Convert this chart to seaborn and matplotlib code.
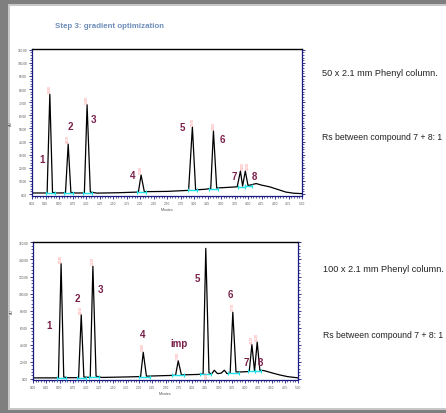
import matplotlib
matplotlib.use("Agg")
import matplotlib.pyplot as plt
import seaborn as sns
import pandas as pd
from matplotlib.patches import Rectangle
from matplotlib.ticker import MultipleLocator

sns.set_style("white")
plt.rcParams['font.family'] = ['Liberation Sans', 'DejaVu Sans']

# ---------------- data ----------------
top_time = [0.00, 0.28, 0.33, 0.38, 0.45, 0.62, 0.67, 0.72, 0.80, 0.97, 1.02, 1.08, 1.20,
            1.60, 1.97, 2.02, 2.08, 2.50, 2.90, 2.97, 3.03, 3.20, 3.31, 3.36, 3.42, 3.60,
            3.80, 3.86, 3.90, 3.95, 4.00, 4.06, 4.15, 4.25, 4.40, 4.55, 4.70, 4.85, 5.00]
top_signal = [0.8, 0.8, 76, 1.2, 0.8, 0.9, 38, 1.2, 0.8, 0.8, 68, 1.5, 0.7,
              1.0, 1.5, 14.5, 1.8, 2.0, 2.8, 51, 3.2, 3.6, 4.2, 48, 4.6, 5.0,
              5.5, 17.5, 6.0, 17.5, 6.5, 7.0, 8.0, 6.8, 5.5, 3.5, 1.5, 0.6, 0.3]
top_peak_names = ["1", "2", "3", "4", "5", "6", "7", "8"]
top_peak_rt = [0.33, 0.67, 1.02, 2.02, 2.97, 3.36, 3.90, 4.00]
top_peak_h = [76, 38, 68, 14.5, 51, 48, 17.5, 17.5]
top_rt_text = ["0.330", "0.670", "1.020", "2.020", "2.970", "3.360", "3.900", "4.000"]
top_label_x = [0.185, 0.71, 1.13, 1.87, 2.78, 3.52, 3.74, 4.11]
top_label_y = [26.7, 52.0, 57, 14.5, 51, 42, 13.7, 13.7]
top_int_start = [0.26, 0.60, 0.95, 1.95, 2.88, 3.28, 3.82, 3.94]
top_int_end = [0.42, 0.76, 1.12, 2.12, 3.06, 3.45, 3.94, 4.08]
top_int_level = [0.8, 0.9, 0.9, 1.5, 2.8, 4.2, 5.5, 6.5]

# Chromatogram 2 (100 x 2.1 mm column)
bot_time = [0.00, 0.48, 0.53, 0.58, 0.65, 0.86, 0.91, 0.96, 1.08, 1.13, 1.19, 1.30, 1.70,
            2.03, 2.08, 2.14, 2.40, 2.69, 2.74, 2.80, 3.10, 3.21, 3.26, 3.32, 3.37, 3.42,
            3.48, 3.55, 3.61, 3.66, 3.72, 3.77, 3.83, 3.95, 4.08, 4.13, 4.18, 4.23, 4.28,
            4.36, 4.50, 4.65, 4.80, 5.00]
bot_signal = [1.0, 1.0, 135, 2.0, 1.2, 1.2, 75, 2.0, 1.5, 132, 3.0, 1.5, 2.0,
              2.5, 31, 3.0, 3.5, 4.0, 21, 4.5, 5.0, 5.5, 153, 7.0, 5.5, 10,
              6.0, 6.5, 10, 6.0, 6.5, 78, 8.0, 8.0, 8.5, 40, 9.0, 43, 10,
              9.5, 7.0, 4.5, 2.5, 1.0]
bot_peak_names = ["1", "2", "3", "4", "imp", "5", "6", "7", "8"]
bot_peak_rt = [0.53, 0.91, 1.13, 2.08, 2.74, 3.26, 3.77, 4.13, 4.23]
bot_peak_h = [135, 75, 132, 31, 21, 153, 78, 40, 43]
bot_rt_text = ["0.530", "0.910", "1.130", "2.080", "2.740", "3.260", "3.770", "4.130", "4.230"]
bot_label_x = [0.30, 0.83, 1.28, 2.06, 2.75, 3.11, 3.72, 4.02, 4.30]
bot_label_y = [62.8, 94.4, 105, 52.3, 41.8, 117.8, 99, 19.6, 19.6]
bot_int_start = [0.45, 0.83, 1.05, 2.00, 2.62, 3.15, 3.68, 4.05, 4.18]
bot_int_end = [0.62, 1.00, 1.25, 2.20, 2.85, 3.35, 3.88, 4.18, 4.30]
bot_int_level = [1.0, 1.2, 1.5, 2.5, 4.0, 5.5, 6.5, 8.5, 9.5]

x_ticks = [i * 0.25 for i in range(21)]
top_y_ticks = list(range(0, 111, 10))
bot_y_ticks = list(range(0, 161, 20))

side_texts = ["50 x 2.1 mm Phenyl column.", "Rs between compound 7 + 8: 1",
              "100 x 2.1 mm Phenyl column.", "Rs between compound 7 + 8: 1"]

# ---------------- figure ----------------
W, H = 446, 414
fig = plt.figure(figsize=(W / 100, H / 100), dpi=100)
fig.patch.set_facecolor("#7f7f7f")


def fx(px):
    return px / W


def fy(py):
    return 1 - py / H


# white slide area (behind the axes)
fig.patches.append(Rectangle((fx(8), fy(411)), fx(446 - 8), (411 - 5) / H,
                             transform=fig.transFigure, facecolor="#c8c8c8",
                             edgecolor="none", zorder=-10))
fig.patches.append(Rectangle((fx(10), fy(409)), fx(446 - 10), (409 - 7) / H,
                             transform=fig.transFigure, facecolor="white",
                             edgecolor="none", zorder=-9))

fig.text(fx(55), fy(27), "Step 3: gradient optimization", color="#6d8dbb",
         fontsize=5.7, fontweight="bold", va="center", ha="left")

navy = "#1a1a80"
maroon = "#7a1f4a"


def draw_chrom(ax, t, s, names, rt, h, rt_txt, lx, ly, i0, i1, il, yticks, ylim, rt_above):
    df = pd.DataFrame({"Minutes": t, "AU": s})
    sns.lineplot(data=df, x="Minutes", y="AU", ax=ax, color="black", lw=0.9,
                 sort=False, estimator=None)
    for a, b, lev in zip(i0, i1, il):
        ax.plot([a, b], [lev, lev], color="#22e0e8", lw=1.0, zorder=3)
        ax.plot([a, b], [lev, lev], ls="none", marker="|", ms=3, mew=0.8,
                color="#22e0e8", zorder=3)
    for n, x, y in zip(names, lx, ly):
        ax.text(x, y, n, color=maroon, fontsize=7, fontweight="bold",
                ha="center", va="center")
    yr = ylim[1] - ylim[0]
    for k, (x, y, tx) in enumerate(zip(rt, h, rt_txt)):
        if rt_above[k]:
            ax.text(x, y + 0.015 * yr, tx, rotation=90, fontsize=2.3, color="#ff8080",
                    ha="center", va="bottom")
        else:
            ax.text(x + 0.02, 0.5, tx, rotation=90, fontsize=2.3, color="#ff8080",
                    ha="center", va="bottom")
    ax.set_xlim(0, 5)
    ax.set_ylim(*ylim)
    ax.set_xticks(x_ticks)
    ax.set_xticklabels([f"{v:.2f}" for v in x_ticks])
    ax.set_yticks(yticks)
    ax.set_yticklabels([f"{v:.2f}" for v in yticks])
    ax.xaxis.set_minor_locator(MultipleLocator(0.05))
    ax.yaxis.set_minor_locator(MultipleLocator((yticks[1] - yticks[0]) / 5))
    ax.tick_params(axis="both", which="major", labelsize=2.3, labelcolor="#555555",
                   length=2, width=0.6, color=navy, pad=1.5)
    ax.tick_params(axis="both", which="minor", length=1.2, width=0.5, color=navy)
    ax.tick_params(axis="y", which="both", right=True, left=True)
    ax.tick_params(axis="x", which="both", bottom=True)
    ax.set_xlabel("Minutes", fontsize=2.6, color="#555555", labelpad=1.5)
    ax.set_ylabel("AU", fontsize=2.6, color="#555555", labelpad=3)
    for side in ["left", "right", "bottom"]:
        ax.spines[side].set_color(navy)
        ax.spines[side].set_linewidth(0.9)
    ax.spines["top"].set_color("black")
    ax.spines["top"].set_linewidth(1.0)
    ax.set_facecolor("white")


ax1 = fig.add_axes([fx(32), fy(197), fx(302 - 32), (197 - 50) / H])
draw_chrom(ax1, top_time, top_signal, top_peak_names, top_peak_rt, top_peak_h,
           top_rt_text, top_label_x, top_label_y, top_int_start, top_int_end,
           top_int_level, top_y_ticks, (-1.5, 110.5), [True] * 8)

ax2 = fig.add_axes([fx(33), fy(381), fx(298 - 33), (381 - 243) / H])
draw_chrom(ax2, bot_time, bot_signal, bot_peak_names, bot_peak_rt, bot_peak_h,
           bot_rt_text, bot_label_x, bot_label_y, bot_int_start, bot_int_end,
           bot_int_level, bot_y_ticks, (-1.5, 160.5),
           [True, True, True, True, True, False, True, True, True])

side_pos = [(322, 73), (322, 138), (323, 270), (323, 336)]
side_size = [6.6, 6.2, 6.6, 6.2]
for txt, (px, py), fs in zip(side_texts, side_pos, side_size):
    fig.text(fx(px), fy(py), txt, fontsize=fs, color="#222222", ha="left", va="center")

fig.savefig("out.png", dpi=100, facecolor=fig.get_facecolor())
